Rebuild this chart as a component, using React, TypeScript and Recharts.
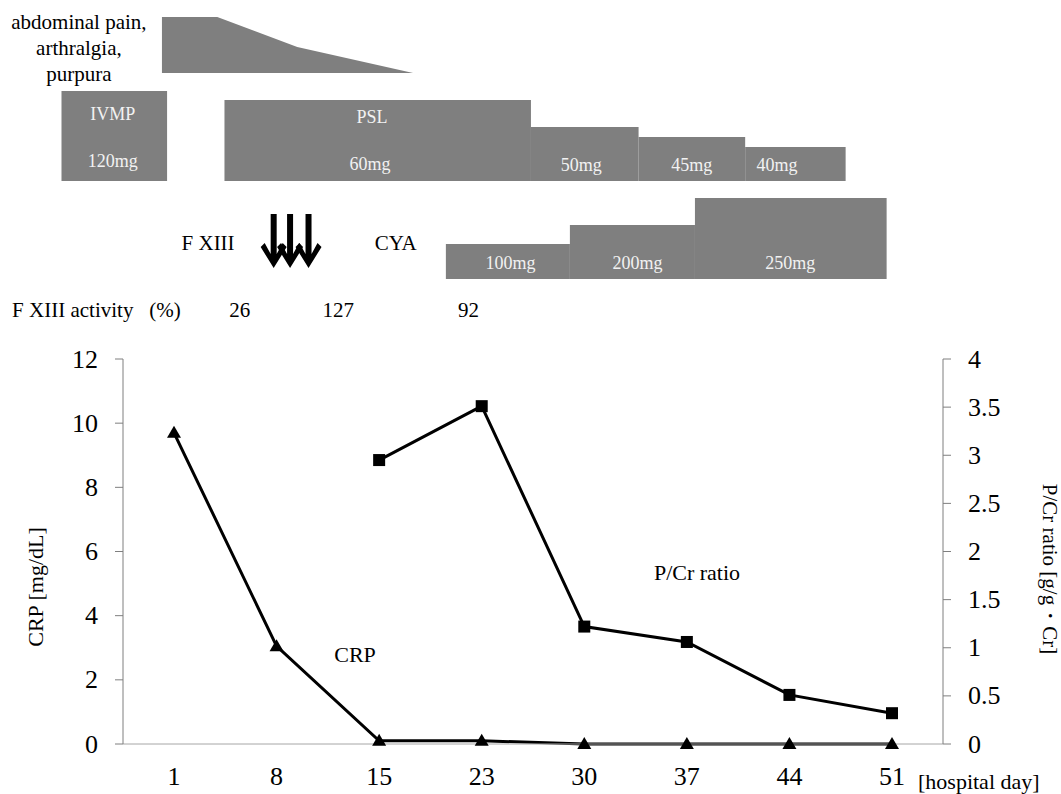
import React from 'react';
import {
  ComposedChart,
  LineChart,
  Line,
  Area,
  Scatter,
  XAxis,
  YAxis,
  ReferenceArea,
  ReferenceDot,
} from 'recharts';

// lower panel: CRP and P/Cr ratio by hospital day
const days = ['1', '8', '15', '23', '30', '37', '44', '51'];
const crpValues = [9.7, 3.05, 0.1, 0.1, 0, 0, 0, 0];
const pcrValues = [null, null, 2.95, 3.51, 1.22, 1.06, 0.51, 0.32];
const crpTicks = [0, 2, 4, 6, 8, 10, 12];
const pcrTicks = [0, 0.5, 1, 1.5, 2, 2.5, 3, 3.5, 4];

// upper panel (treatment course). slot 0 = day 1, slot 1 = day 8, ... same spacing as the day axis
const symptomSlots = [-0.12, 0.42, 1.2, 2.33];
const symptomTop = [31.3, 31.3, 28.3, 25.7];
const symptomBase = 25.7;

const steroidBlocks = [
  { from: -1.1, to: -0.07, top: 23.9 }, // IVMP 120mg
  { from: 0.49, to: 3.48, top: 23.0 }, // PSL 60mg
  { from: 3.48, to: 4.53, top: 20.3 }, // 50mg
  { from: 4.53, to: 5.57, top: 19.3 }, // 45mg
  { from: 5.57, to: 6.55, top: 18.3 }, // 40mg
];
const steroidBase = 14.9;

const cyaBlocks = [
  { from: 2.65, to: 3.86, top: 8.6 }, // 100mg
  { from: 3.86, to: 5.08, top: 10.5 }, // 200mg
  { from: 5.08, to: 6.95, top: 13.2 }, // 250mg
];
const cyaBase = 5.1;

const factorSlots = [0.97, 1.13, 1.31];
const factorLevel = 8.9;

const doseLabels: [string, number, number][] = [
  ['IVMP', -0.6, 21.6],
  ['120mg', -0.6, 16.9],
  ['PSL', 1.93, 21.3],
  ['60mg', 1.91, 16.6],
  ['50mg', 3.97, 16.5],
  ['45mg', 5.05, 16.5],
  ['40mg', 5.88, 16.5],
  ['100mg', 3.28, 6.7],
  ['200mg', 4.52, 6.7],
  ['250mg', 6.01, 6.7],
];

const noteLabels: [string, number, number][] = [
  ['abdominal pain,', -0.93, 30.8],
  ['arthralgia,', -0.93, 28.2],
  ['purpura', -0.93, 25.6],
  ['F XIII', 0.33, 8.7],
  ['CYA', 2.16, 8.7],
  ['F XIII activity', -0.99, 2.0],
  ['(%)', -0.09, 2.0],
];

const activityValues = ['26', '127', '92'];
const activitySlots = [0.64, 1.6, 2.87];
const activityLevel = 2.0;

const GRAY = '#7f7f7f';
const serif = '"Liberation Serif", "Times New Roman", serif';

const lineData = days.map((day, i) => ({ day, crp: crpValues[i], pcr: pcrValues[i] }));
const symptomData = symptomSlots.map((slot, i) => ({ slot, band: [symptomBase, symptomTop[i]] }));
const arrowData = factorSlots.map((slot) => ({ slot, level: factorLevel }));

const renderArrow = (props: any) => {
  const { cx, cy } = props;
  const d = `M${cx - 3},${cy - 27} H${cx + 3} V${cy + 13} L${cx + 9},${cy + 2} L${cx + 13},${cy + 6} L${cx},${cy + 27} L${cx - 13},${cy + 6} L${cx - 9},${cy + 2} L${cx - 3},${cy + 13} Z`;
  return <path d={d} fill="#000" />;
};

const renderTriangle = (props: any) => {
  const { cx, cy, index } = props;
  if (cx == null || cy == null) return <g key={`t${index}`} />;
  return <path key={`t${index}`} d={`M${cx},${cy - 7} L${cx + 7},${cy + 5} L${cx - 7},${cy + 5} Z`} fill="#000" />;
};

const renderSquare = (props: any) => {
  const { cx, cy, index } = props;
  if (cx == null || cy == null) return <g key={`s${index}`} />;
  return <rect key={`s${index}`} x={cx - 6} y={cy - 6} width={12} height={12} fill="#000" />;
};

// centred serif text for the reference dots of the schedule panel
const centeredText = (text: string, color: string, size: number) => (p: any) => {
  const vb = p.viewBox || {};
  const x = (vb.x ?? 0) + (vb.width ?? 0) / 2;
  const y = (vb.y ?? 0) + (vb.height ?? 0) / 2;
  return (
    <text x={x} y={y} fill={color} fontSize={size} fontFamily={serif} textAnchor="middle" dominantBaseline="central">
      {text}
    </text>
  );
};

const xTick = (p: any) => (
  <text x={p.x} y={p.y} dy="0.71em" fill="#000" fontSize={26} fontFamily={serif} textAnchor="middle">
    {p.payload.value}
  </text>
);

const yTick = (p: any) => (
  <text x={p.x} y={p.y} fill="#000" fontSize={26} fontFamily={serif} textAnchor={p.textAnchor} dominantBaseline="central">
    {p.payload.value}
  </text>
);

const leftTitles = () => (
  <g fontFamily={serif} fill="#000">
    <text x={35} y={587} fontSize={22} textAnchor="middle" dominantBaseline="central" transform="rotate(-90 35 587)">
      CRP [mg/dL]
    </text>
    <text x={355} y={654} fontSize={22} textAnchor="middle" dominantBaseline="central">
      CRP
    </text>
    <text x={697} y={572} fontSize={22} textAnchor="middle" dominantBaseline="central">
      P/Cr ratio
    </text>
  </g>
);

const rightTitle = () => (
  <text x={1050} y={569} fontSize={21} fontFamily={serif} fill="#000" textAnchor="middle" dominantBaseline="central" transform="rotate(90 1050 569)">
    P/Cr ratio  [g/g・Cr]
  </text>
);

const dayTitle = () => (
  <text x={918} y={781} fontSize={22} fontFamily={serif} fill="#000" dominantBaseline="central">
    [hospital day]
  </text>
);

export default function App() {
  return (
    <div style={{ position: 'absolute', left: 0, top: 0, width: 1061, height: 794, background: '#fff', fontFamily: serif }}>
      <div style={{ position: 'absolute', left: 0, top: 0 }}>
        <ComposedChart width={1061} height={330} data={symptomData} margin={{ top: 0, right: 118, bottom: 0, left: 123 }}>
          <XAxis type="number" dataKey="slot" domain={[-0.5, 7.5]} allowDataOverflow hide />
          <YAxis type="number" dataKey="level" domain={[0, 33]} allowDataOverflow hide />
          <Area dataKey="band" type="linear" stroke="none" fill={GRAY} fillOpacity={1} isAnimationActive={false} />
          {steroidBlocks.map((b, i) => (
            <ReferenceArea key={`st${i}`} x1={b.from} x2={b.to} y1={steroidBase} y2={b.top} fill={GRAY} fillOpacity={1} stroke="none" ifOverflow="visible" />
          ))}
          {cyaBlocks.map((b, i) => (
            <ReferenceArea key={`cy${i}`} x1={b.from} x2={b.to} y1={cyaBase} y2={b.top} fill={GRAY} fillOpacity={1} stroke="none" ifOverflow="visible" />
          ))}
          <Scatter data={arrowData} shape={renderArrow} isAnimationActive={false} />
          {doseLabels.map(([t, x, y]) => (
            <ReferenceDot key={t} x={x} y={y} r={0} stroke="none" ifOverflow="visible"
              label={{ content: centeredText(t, '#f2f2f2', 18) }} />
          ))}
          {noteLabels.map(([t, x, y]) => (
            <ReferenceDot key={t} x={x} y={y} r={0} stroke="none" ifOverflow="visible"
              label={{ content: centeredText(t, '#000', 21) }} />
          ))}
          {activityValues.map((t, i) => (
            <ReferenceDot key={`a${t}`} x={activitySlots[i]} y={activityLevel} r={0} stroke="none" ifOverflow="visible"
              label={{ content: centeredText(t, '#000', 21) }} />
          ))}
        </ComposedChart>
      </div>
      <div style={{ position: 'absolute', left: 0, top: 0 }}>
        <LineChart width={1061} height={794} data={lineData} margin={{ top: 359, right: 58, bottom: 20, left: 63 }}>
          <XAxis
            dataKey="day"
            padding={{ left: 51, right: 51 }}
            height={30}
            axisLine={{ stroke: '#a6a6a6' }}
            tickLine={false}
            tickSize={8}
            tickMargin={15}
            tick={xTick}
            label={dayTitle}
          />
          <YAxis
            yAxisId="crp"
            domain={[0, 12]}
            ticks={crpTicks}
            width={60}
            tickSize={8}
            tickMargin={17}
            axisLine={{ stroke: GRAY }}
            tickLine={{ stroke: GRAY }}
            tick={yTick}
            label={leftTitles}
          />
          <YAxis
            yAxisId="pcr"
            orientation="right"
            domain={[0, 4]}
            ticks={pcrTicks}
            width={60}
            tickSize={8}
            tickMargin={17}
            axisLine={{ stroke: GRAY }}
            tickLine={{ stroke: GRAY }}
            tick={yTick}
            label={rightTitle}
          />
          <Line yAxisId="crp" dataKey="crp" type="linear" stroke="#000" strokeWidth={3} dot={renderTriangle} activeDot={false} isAnimationActive={false} />
          <Line yAxisId="pcr" dataKey="pcr" type="linear" stroke="#000" strokeWidth={3} dot={renderSquare} activeDot={false} isAnimationActive={false} />
        </LineChart>
      </div>
    </div>
  );
}
